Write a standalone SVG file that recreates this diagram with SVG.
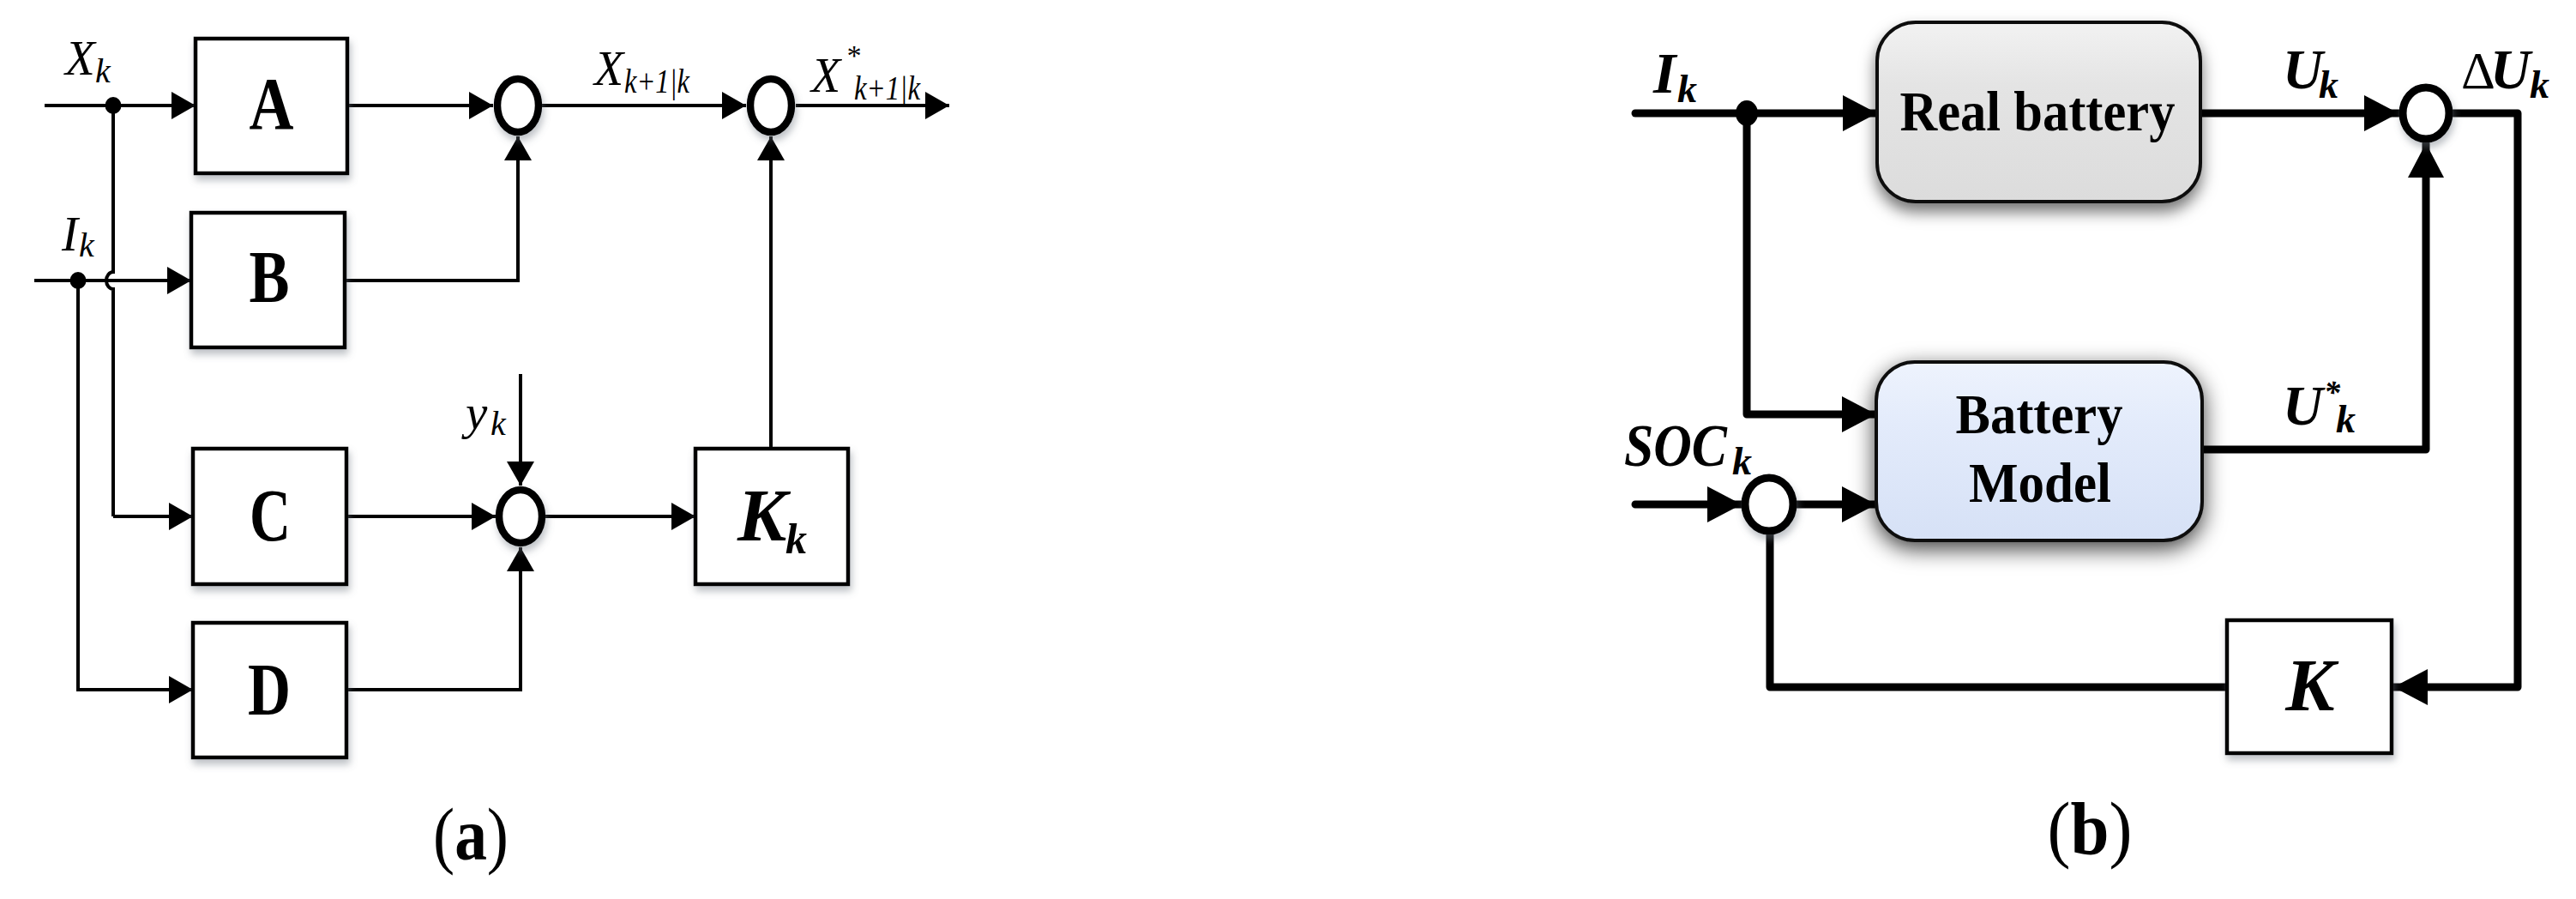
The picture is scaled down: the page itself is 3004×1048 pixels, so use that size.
<svg xmlns="http://www.w3.org/2000/svg" width="3004" height="1048" viewBox="0 0 3004 1048">
<style>
.bg{fill:#fff}
.lnA{fill:none;stroke:#000;stroke-width:4;marker-end:url(#arrA)}
.lnA0{fill:none;stroke:#000;stroke-width:4}
.lnB{fill:none;stroke:#000;stroke-width:9;stroke-linecap:round;stroke-linejoin:round;marker-end:url(#arrB)}
.lnB0{fill:none;stroke:#000;stroke-width:9;stroke-linecap:round;stroke-linejoin:round}
.box{fill:#fff;stroke:#000;stroke-width:4.5}
.sumA{fill:#fff;stroke:#000;stroke-width:8.5}
.sumB{fill:#fff;stroke:#000;stroke-width:9}
.dot{fill:#000}
.big{font-family:"Liberation Serif",serif;font-weight:bold;font-size:86px;text-anchor:middle}
.it{font-family:"Liberation Serif",serif;font-style:italic}
.bi{font-family:"Liberation Serif",serif;font-style:italic;font-weight:bold}
.bl{font-family:"Liberation Serif",serif;font-weight:bold;font-size:65px;text-anchor:middle}
.cap{font-family:"Liberation Serif",serif;font-size:86px;text-anchor:middle}
</style>
<defs>
<marker id="arrA" markerUnits="userSpaceOnUse" markerWidth="30" markerHeight="34" refX="28" refY="16" orient="auto" overflow="visible"><path d="M0,0 L28,16 L0,32 z" fill="#000"/></marker>
<marker id="arrB" markerUnits="userSpaceOnUse" markerWidth="42" markerHeight="44" refX="40" refY="21" orient="auto" overflow="visible"><path d="M0,0 L40,21 L0,42 z" fill="#000"/></marker>
<filter id="shA" x="-20%" y="-20%" width="150%" height="160%"><feDropShadow dx="2" dy="6" stdDeviation="4" flood-color="#6f7780" flood-opacity="0.45"/></filter>
<filter id="shRB" x="-20%" y="-30%" width="140%" height="170%"><feDropShadow dx="0" dy="10" stdDeviation="9" flood-color="#000" flood-opacity="0.55"/></filter>
<filter id="shBM" x="-20%" y="-30%" width="140%" height="170%"><feDropShadow dx="0" dy="8" stdDeviation="13" flood-color="#000" flood-opacity="0.75"/></filter>
<linearGradient id="gRB" x1="0" y1="0" x2="0" y2="1"><stop offset="0" stop-color="#f2f2f2"/><stop offset="0.35" stop-color="#e4e4e4"/><stop offset="1" stop-color="#dcdcdc"/></linearGradient>
<linearGradient id="gBM" x1="0" y1="0" x2="0" y2="1"><stop offset="0" stop-color="#eef3fd"/><stop offset="0.35" stop-color="#e3ebfb"/><stop offset="1" stop-color="#d6e1f6"/></linearGradient>
</defs>
<rect class="bg" x="0" y="0" width="3004" height="1048"/>

<g id="connectors">
<path class="lnA" d="M52,123 H228"/>
<path class="lnA0" d="M132,123 V317 A8,10 0 0,0 132,337 V602"/>
<path class="lnA" d="M132,602 H225"/>
<path class="lnA" d="M40,327 H223"/>
<path class="lnA" d="M91,327 V804 H225"/>
<path class="lnA" d="M405,123 H575"/>
<path class="lnA" d="M402,327 H604 V159"/>
<path class="lnA" d="M632,123 H870"/>
<path class="lnA" d="M928,123 H1107"/>
<path class="lnA" d="M404,602 H578"/>
<path class="lnA" d="M607,436 V566"/>
<path class="lnA" d="M404,804 H607 V638"/>
<path class="lnA" d="M636,602 H811"/>
<path class="lnA" d="M899,523 V159"/>

<path class="lnB" d="M1907,132 H2189"/>
<path class="lnB" d="M2037,132 V483 H2188"/>
<path class="lnB" d="M2566,132 H2797"/>
<path class="lnB" d="M2861,132 H2936 V801 H2791"/>
<path class="lnB" d="M2568,524 H2829 V167"/>
<path class="lnB" d="M1907,588 H2031"/>
<path class="lnB" d="M2095,588 H2188"/>
<path class="lnB0" d="M2064,623 V801 H2597"/>
</g>

<g id="dot-xk"><ellipse class="dot" cx="132" cy="123" rx="9.5" ry="10"/></g>
<g id="dot-ik"><ellipse class="dot" cx="91" cy="327" rx="9.5" ry="10"/></g>

<g id="node-A" filter="url(#shA)"><rect class="box" x="228" y="45" width="177" height="157"/><text class="big" x="316.5" y="150" textLength="52" lengthAdjust="spacingAndGlyphs">A</text></g>
<g id="node-B" filter="url(#shA)"><rect class="box" x="223" y="248" width="179" height="157"/><text class="big" x="314" y="352" textLength="47" lengthAdjust="spacingAndGlyphs">B</text></g>
<g id="node-C" filter="url(#shA)"><rect class="box" x="225" y="523" width="179" height="158"/><text class="big" x="315" y="630" textLength="48" lengthAdjust="spacingAndGlyphs">C</text></g>
<g id="node-D" filter="url(#shA)"><rect class="box" x="225" y="726" width="179" height="157"/><text class="big" x="314" y="833" textLength="50" lengthAdjust="spacingAndGlyphs">D</text></g>
<g id="node-Kk" filter="url(#shA)"><rect class="box" x="811" y="523" width="178" height="158"/><text class="bi" x="860" y="630" font-size="86">K</text><text class="bi" x="916" y="645" font-size="50">k</text></g>

<g id="sum-1" filter="url(#shA)"><ellipse class="sumA" cx="604" cy="123" rx="24" ry="31"/></g>
<g id="sum-2" filter="url(#shA)"><ellipse class="sumA" cx="899" cy="123" rx="24" ry="31"/></g>
<g id="sum-3" filter="url(#shA)"><ellipse class="sumA" cx="607" cy="602" rx="25" ry="31"/></g>

<g id="labels-a">
<text class="it" x="76" y="87" font-size="57">X</text><text class="it" x="111" y="96" font-size="40">k</text>
<text class="it" x="72" y="292" font-size="57">I</text><text class="it" x="92" y="299" font-size="40">k</text>
<text class="it" x="693" y="99" font-size="56">X</text><text class="it" x="728" y="108" font-size="40" textLength="76" lengthAdjust="spacingAndGlyphs">k+1|k</text>
<text class="it" x="946" y="107" font-size="56">X</text><text class="it" x="986" y="76" font-size="34">*</text><text class="it" x="996" y="116" font-size="40" textLength="77" lengthAdjust="spacingAndGlyphs">k+1|k</text>
<text class="it" x="543" y="500" font-size="57">y</text><text class="it" x="572" y="507" font-size="40">k</text>
<text class="cap" x="549" y="1002" textLength="88" lengthAdjust="spacingAndGlyphs">(<tspan font-weight="bold">a</tspan>)</text>
</g>

<g id="dot-ik-b"><ellipse class="dot" cx="2037" cy="132" rx="13" ry="15"/></g>

<g id="node-real-battery" filter="url(#shRB)">
<rect x="2189" y="26" width="377" height="209" rx="45" ry="45" fill="url(#gRB)" stroke="#111" stroke-width="4"/>
<text class="bl" x="2376" y="152" textLength="321" lengthAdjust="spacingAndGlyphs">Real battery</text>
</g>
<g id="node-battery-model" filter="url(#shBM)">
<rect x="2188" y="422" width="380" height="208" rx="45" ry="45" fill="url(#gBM)" stroke="#111" stroke-width="4"/>
<text class="bl" x="2378" y="505" textLength="195" lengthAdjust="spacingAndGlyphs">Battery</text>
<text class="bl" x="2379" y="585" textLength="166" lengthAdjust="spacingAndGlyphs">Model</text>
</g>
<g id="node-K" filter="url(#shA)"><rect class="box" x="2597" y="723" width="192" height="155"/><text class="bi" x="2694" y="828" font-size="86" text-anchor="middle">K</text></g>

<g id="sum-b1" filter="url(#shA)"><ellipse class="sumB" cx="2829" cy="132" rx="27" ry="30"/></g>
<g id="sum-b2" filter="url(#shA)"><ellipse class="sumB" cx="2063" cy="588" rx="28" ry="31"/></g>

<g id="labels-b">
<text class="bi" x="1928" y="108" font-size="68">I</text><text class="bi" x="1956" y="119" font-size="46">k</text>
<text class="bi" x="2662" y="103" font-size="65">U</text><text class="bi" x="2704" y="114" font-size="46">k</text>
<text x="2870" y="103" font-size="62" font-family="Liberation Serif, serif">Δ</text><text class="bi" x="2904" y="103" font-size="65">U</text><text class="bi" x="2950" y="114" font-size="46">k</text>
<text class="bi" x="2662" y="495" font-size="65">U</text><text class="bi" x="2710" y="470" font-size="38">*</text><text class="bi" x="2724" y="504" font-size="46">k</text>
<text class="bi" x="1894" y="543" font-size="70" textLength="120" lengthAdjust="spacingAndGlyphs">SOC</text><text class="bi" x="2020" y="553" font-size="46">k</text>
<text class="cap" x="2437" y="995" textLength="99" lengthAdjust="spacingAndGlyphs">(<tspan font-weight="bold">b</tspan>)</text>
</g>
</svg>
